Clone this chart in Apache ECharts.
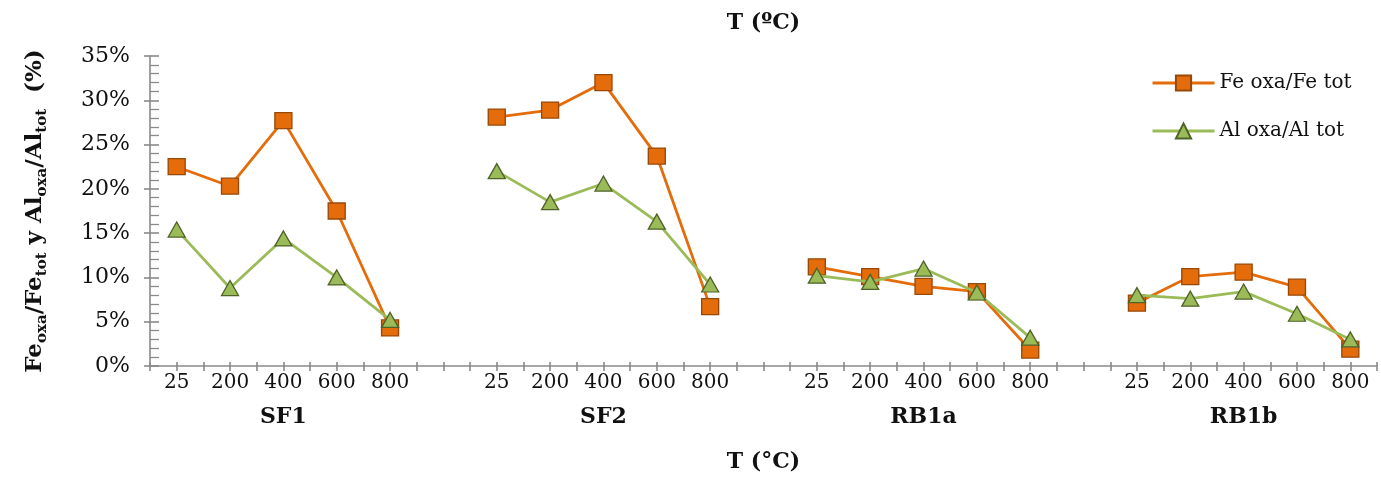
<!DOCTYPE html>
<html>
<head>
<meta charset="utf-8">
<script src="https://cdn.jsdelivr.net/npm/echarts@6/dist/echarts.min.js"></script>
<style>
html,body{margin:0;padding:0;background:#fff;}
#c{width:1381px;height:478px;}
</style>
</head>
<body>
<div id="c"></div>
<script>
// ---- data ----
const temps = ['25', '200', '400', '600', '800'];
const groups = ['SF1', 'SF2', 'RB1a', 'RB1b'];
const feSF1 = [22.5, 20.3, 27.7, 17.5, 4.3];
const feSF2 = [28.1, 28.9, 32.0, 23.7, 6.7];
const feRB1a = [11.2, 10.1, 9.0, 8.4, 1.8];
const feRB1b = [7.1, 10.1, 10.6, 8.9, 1.9];
const alSF1 = [15.4, 8.8, 14.4, 10.0, 5.2];
const alSF2 = [22.0, 18.5, 20.6, 16.3, 9.2];
const alRB1a = [10.2, 9.5, 11.0, 8.3, 3.2];
const alRB1b = [8.0, 7.6, 8.4, 5.9, 3.0];
const seriesNames = ['Fe oxa/Fe tot', 'Al oxa/Al tot'];
const yTicks = [0, 5, 10, 15, 20, 25, 30, 35];

// ---- build positions: each group takes temps.length slots + 1 gap slot ----
const slot = temps.length + 1;
function build(arrs) {
  const out = [];
  arrs.forEach((vals, g) => {
    vals.forEach((v, i) => out.push([g * slot + i + 1, v]));
    if (g < arrs.length - 1) out.push([g * slot + slot, '-']);
  });
  return out;
}
const feData = build([feSF1, feSF2, feRB1a, feRB1b]);
const alData = build([alSF1, alSF2, alRB1a, alRB1b]);
const xMin = 0.5, xMax = groups.length * slot - 0.5;

function xLabel(v) {
  const r = Math.round(v);
  if (Math.abs(v - r) > 1e-6) return '';
  const g = Math.floor((r - 1) / slot);
  const i = (r - 1) - g * slot;
  if (i < 0 || i >= temps.length) return '';
  let s = temps[i];
  if (i === Math.floor(temps.length / 2)) s += '\n{grp|' + groups[g] + '}';
  else s += '\n{grp| }';
  return s;
}

const FONT = 'DejaVu Serif';
const AX = '#8a8a8a';
const TXT = '#111';

const chart = echarts.init(document.getElementById('c'), null, {renderer: 'canvas'});
chart.setOption({
  backgroundColor: '#fff',
  animation: false,
  textStyle: {fontFamily: FONT, color: TXT},
  grid: {left: 150, right: 4, top: 56, bottom: 110, containLabel: false},
  legend: {
    orient: 'vertical',
    left: 1146,
    top: 66,
    itemWidth: 62,
    itemHeight: 19,
    itemGap: 24,
    lineStyle: {width: 3},
    textStyle: {fontFamily: FONT, fontSize: 20, color: TXT, lineHeight: 24},
    data: seriesNames
  },
  xAxis: [
    {
      type: 'value', position: 'bottom', min: xMin, max: xMax, interval: 0.5,
      splitLine: {show: false},
      axisLine: {onZero: false, lineStyle: {color: AX, width: 1.6}},
      axisTick: {show: true, inside: false, length: 5, lineStyle: {color: AX, width: 1.6}},
      axisLabel: {
        formatter: xLabel, margin: 4, fontFamily: FONT, fontSize: 20, color: TXT, lineHeight: 26,
        rich: {grp: {fontFamily: FONT, fontSize: 22, fontWeight: 'bold', color: TXT, lineHeight: 42}}
      },
      name: 'T (°C)', nameLocation: 'middle', nameGap: 85,
      nameTextStyle: {fontFamily: FONT, fontSize: 22, fontWeight: 'bold', color: TXT}
    },
    {
      type: 'value', position: 'bottom', min: xMin, max: xMax, interval: 0.5,
      splitLine: {show: false},
      axisLine: {show: false, onZero: false},
      axisTick: {show: true, inside: true, length: 4, lineStyle: {color: AX, width: 1.6}},
      axisLabel: {show: false}
    },
    {
      type: 'value', position: 'top', min: xMin, max: xMax, interval: 0.5,
      splitLine: {show: false},
      axisLine: {show: false}, axisTick: {show: false}, axisLabel: {show: false},
      name: 'T (ºC)', nameLocation: 'middle', nameGap: 22,
      nameTextStyle: {fontFamily: FONT, fontSize: 22, fontWeight: 'bold', color: TXT}
    }
  ],
  yAxis: [
    {
      type: 'value', min: yTicks[0], max: yTicks[yTicks.length - 1], interval: yTicks[1] - yTicks[0],
      splitLine: {show: false},
      axisLine: {show: true, onZero: false, lineStyle: {color: AX, width: 1.6}},
      axisTick: {show: true, inside: false, length: 6, lineStyle: {color: AX, width: 1.6}},
      axisLabel: {formatter: '{value}%', margin: 20, fontFamily: FONT, fontSize: 22, color: TXT},
      name: '{n|Fe}{s|oxa}{n|/Fe}{s|tot}{n| y Al}{s|oxa}{n|/Al}{s|tot}{n|  (%)}',
      nameLocation: 'middle', nameRotate: 90, nameGap: 100,
      nameTextStyle: {
        rich: {
          n: {fontFamily: FONT, fontSize: 23, fontWeight: 'bold', color: TXT, lineHeight: 30, verticalAlign: 'middle'},
          s: {fontFamily: FONT, fontSize: 15, fontWeight: 'bold', color: TXT, lineHeight: 30, verticalAlign: 'bottom'}
        }
      }
    },
    {
      type: 'value', min: yTicks[0], max: yTicks[yTicks.length - 1], interval: yTicks[1] - yTicks[0],
      position: 'left', offset: 0,
      splitLine: {show: false},
      axisLine: {show: false},
      axisTick: {show: true, inside: true, length: 9, lineStyle: {color: AX, width: 1.6}},
      minorTick: {show: true, splitNumber: 5, length: 9, lineStyle: {color: AX, width: 1.3}},
      axisLabel: {show: false}
    }
  ],
  series: [
    {
      name: seriesNames[0], type: 'line', xAxisIndex: 0, yAxisIndex: 0, data: feData,
      connectNulls: false,
      symbol: 'rect', symbolSize: [17, 16],
      lineStyle: {color: '#E46C0A', width: 2.8},
      itemStyle: {color: '#E46C0A', borderColor: '#984807', borderWidth: 1.3},
      z: 2
    },
    {
      name: seriesNames[1], type: 'line', xAxisIndex: 0, yAxisIndex: 0, data: alData,
      connectNulls: false,
      symbol: 'triangle', symbolSize: [17, 15],
      lineStyle: {color: '#9BBB59', width: 2.8},
      itemStyle: {color: '#9BBB59', borderColor: '#4F6228', borderWidth: 1.3},
      z: 3
    }
  ]
});
</script>
</body>
</html>
